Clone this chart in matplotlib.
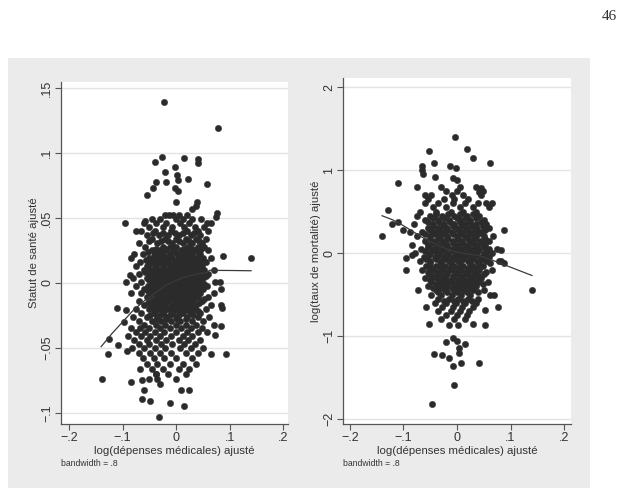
import numpy as np
import matplotlib
matplotlib.use("Agg")
import matplotlib.pyplot as plt
from matplotlib.patches import Rectangle

plt.rcParams['font.family'] = ['Liberation Sans', 'DejaVu Sans']

# --- panneau gauche : statut de santé ajusté ---
# points isolés (x, y)
sante_isoles = [
    (-0.022, 0.139), (0.078, 0.119), (-0.027, 0.097), (-0.040, 0.093), (0.014, 0.096),
    (0.041, 0.095), (0.040, 0.092), (-0.020, 0.085), (-0.003, 0.089), (0.001, 0.083),
    (0.004, 0.079), (-0.037, 0.078), (-0.018, 0.078), (0.022, 0.080), (0.057, 0.076),
    (-0.054, 0.068), (-0.043, 0.073), (-0.002, 0.073), (0.003, 0.071), (0.000, 0.062),
    (0.037, 0.059), (0.039, 0.062), (0.030, 0.057), (-0.096, 0.046), (-0.075, 0.040),
    (-0.059, 0.048), (0.076, 0.054), (0.075, 0.051), (0.088, 0.021), (0.140, 0.019),
    (-0.086, 0.006), (-0.093, 0.001), (-0.110, -0.019), (-0.093, -0.021), (0.082, 0.001),
    (0.083, -0.005), (0.084, -0.017), (0.086, -0.019), (-0.125, -0.043), (-0.108, -0.048),
    (-0.127, -0.055), (-0.091, -0.052), (-0.139, -0.074), (-0.084, -0.076), (-0.063, -0.075),
    (-0.060, -0.082), (-0.063, -0.089), (-0.048, -0.091), (-0.032, -0.103), (-0.012, -0.092),
    (0.014, -0.095), (0.010, -0.082), (0.025, -0.082), (0.065, -0.055), (0.093, -0.055),
    (0.084, -0.033), (-0.038, -0.070), (-0.030, -0.078), (-0.098, -0.030), (0.072, -0.040),
]
# nuage, par rangées : (y, [x ...])
sante_rangees = [
    (0.052, [-0.020, -0.013, -0.005, 0.005, 0.020]),
    (0.049, [-0.045, -0.030, 0.000, 0.012, 0.030, 0.047]),
    (0.046, [-0.060, -0.038, -0.018, 0.008, 0.025, 0.058, 0.066]),
    (0.043, [-0.050, -0.025, -0.008, 0.015, 0.035, 0.052]),
    (0.040, [-0.065, -0.040, -0.010, 0.020, 0.040, 0.060]),
    (0.037, [-0.055, -0.032, -0.015, 0.005, 0.028, 0.045]),
    (0.034, [-0.045, -0.020, 0.000, 0.018, 0.037, 0.055]),
    (0.031, [-0.070, -0.035, -0.008, 0.012, 0.030, 0.048]),
    (0.028, [-0.058, -0.025, -0.012, 0.000, 0.022, 0.040, 0.052]),
    (0.025, [-0.045, -0.030, -0.018, -0.005, 0.010, 0.025, 0.035, 0.060]),
    (0.022, [-0.078, -0.062, -0.040, -0.025, -0.012, 0.002, 0.015, 0.030, 0.045]),
    (0.019, [-0.085, -0.050, -0.035, -0.020, -0.008, 0.005, 0.020, 0.035, 0.050, 0.065]),
    (0.016, [-0.068, -0.045, -0.030, -0.015, 0.000, 0.012, 0.028, 0.042, 0.055]),
    (0.013, [-0.075, -0.055, -0.040, -0.025, -0.010, 0.005, 0.018, 0.032, 0.048]),
    (0.010, [-0.060, -0.045, -0.030, -0.018, -0.005, 0.008, 0.022, 0.038, 0.052, 0.070]),
    (0.007, [-0.070, -0.050, -0.035, -0.022, -0.010, 0.002, 0.015, 0.028, 0.043, 0.060]),
    (0.004, [-0.080, -0.055, -0.040, -0.028, -0.015, -0.003, 0.010, 0.025, 0.038, 0.050]),
    (0.001, [-0.065, -0.045, -0.032, -0.020, -0.008, 0.005, 0.018, 0.032, 0.045, 0.072]),
    (-0.002, [-0.075, -0.052, -0.038, -0.025, -0.012, 0.000, 0.012, 0.027, 0.040, 0.058]),
    (-0.005, [-0.060, -0.045, -0.030, -0.018, -0.005, 0.008, 0.022, 0.035, 0.050]),
    (-0.008, [-0.085, -0.065, -0.040, -0.025, -0.010, 0.003, 0.018, 0.030, 0.045, 0.070]),
    (-0.011, [-0.055, -0.035, -0.020, -0.006, 0.010, 0.025, 0.040, 0.060]),
    (-0.014, [-0.070, -0.045, -0.030, -0.015, 0.000, 0.015, 0.030, 0.048]),
    (-0.017, [-0.060, -0.040, -0.022, -0.008, 0.007, 0.022, 0.038, 0.065]),
    (-0.020, [-0.075, -0.050, -0.032, -0.015, 0.002, 0.018, 0.035, 0.055]),
    (-0.023, [-0.065, -0.042, -0.025, -0.008, 0.012, 0.028, 0.045]),
    (-0.026, [-0.080, -0.055, -0.035, -0.018, 0.000, 0.020, 0.040, 0.062]),
    (-0.029, [-0.070, -0.045, -0.028, -0.010, 0.008, 0.030, 0.050]),
    (-0.032, [-0.060, -0.038, -0.020, 0.000, 0.018, 0.038, 0.070]),
    (-0.035, [-0.085, -0.068, -0.050, -0.030, -0.012, 0.010, 0.028, 0.048]),
    (-0.038, [-0.075, -0.058, -0.040, -0.022, 0.000, 0.020, 0.040, 0.058]),
    (-0.041, [-0.090, -0.065, -0.048, -0.030, -0.010, 0.012, 0.030]),
    (-0.044, [-0.078, -0.055, -0.038, -0.018, 0.005, 0.022, 0.045]),
    (-0.047, [-0.070, -0.050, -0.028, -0.008, 0.015, 0.035]),
    (-0.050, [-0.082, -0.060, -0.040, -0.020, 0.008, 0.028, 0.050]),
    (-0.054, [-0.070, -0.048, -0.030, -0.010, 0.018, 0.040]),
    (-0.058, [-0.062, -0.042, -0.022, 0.000, 0.030]),
    (-0.062, [-0.055, -0.035, -0.012, 0.012, 0.038]),
    (-0.066, [-0.068, -0.045, -0.025, 0.005, 0.025]),
    (-0.070, [-0.038, -0.015, 0.018]),
    (-0.074, [-0.050, -0.035, 0.000]),
]
# coeur dense du nuage
sante_coeur = [
    (0.0385, [-0.043, -0.024, -0.002, 0.012, 0.034]),
    (0.0325, [-0.050, -0.028, -0.015, 0.006, 0.024, 0.042]),
    (0.0265, [-0.038, -0.020, -0.006, 0.014, 0.030, 0.046]),
    (0.0235, [-0.052, -0.034, -0.002, 0.020, 0.041]),
    (0.0205, [-0.042, -0.028, -0.014, 0.010, 0.027, 0.043]),
    (0.0175, [-0.057, -0.038, -0.025, 0.001, 0.016, 0.031, 0.047]),
    (0.0145, [-0.050, -0.035, -0.020, -0.005, 0.008, 0.024, 0.038]),
    (0.0115, [-0.052, -0.038, -0.024, -0.012, 0.002, 0.015, 0.030, 0.045]),
    (0.0085, [-0.058, -0.042, -0.028, -0.016, 0.004, 0.018, 0.034, 0.048]),
    (0.0055, [-0.045, -0.030, -0.016, -0.004, 0.009, 0.022, 0.036, 0.055]),
    (0.0025, [-0.050, -0.035, -0.022, -0.009, 0.004, 0.016, 0.030, 0.044]),
    (-0.0005, [-0.040, -0.026, -0.014, -0.002, 0.011, 0.024, 0.038, 0.052]),
    (-0.0035, [-0.046, -0.032, -0.019, -0.006, 0.006, 0.019, 0.032, 0.046]),
    (-0.0065, [-0.052, -0.036, -0.024, -0.012, 0.001, 0.014, 0.028, 0.042]),
    (-0.0095, [-0.048, -0.030, -0.016, -0.003, 0.012, 0.022, 0.036]),
    (-0.0125, [-0.040, -0.026, -0.012, 0.004, 0.020, 0.034, 0.052]),
    (-0.0155, [-0.052, -0.036, -0.020, -0.002, 0.010, 0.026, 0.042]),
    (-0.0185, [-0.045, -0.028, -0.012, 0.000, 0.014, 0.030]),
    (-0.0215, [-0.040, -0.022, -0.004, 0.008, 0.024, 0.040]),
    (-0.0245, [-0.048, -0.030, -0.012, 0.006, 0.032]),
    (-0.0275, [-0.036, -0.018, 0.002, 0.018]),
]
# courbe lowess (bandwidth = .8)
sante_lowess_x = [-0.140, -0.120, -0.100, -0.080, -0.060, -0.040, -0.020, 0.000, 0.020, 0.040, 0.058, 0.062, 0.100, 0.140]
sante_lowess_y = [-0.049, -0.039, -0.030, -0.021, -0.014, -0.008, -0.002, 0.002, 0.005, 0.007, 0.008, 0.0097, 0.0096, 0.0094]

# --- panneau droit : log(taux de mortalité) ajusté ---
mort_isoles = [
    (-0.004, 1.40), (-0.052, 1.23), (0.019, 1.25), (0.030, 1.15), (0.061, 1.08),
    (-0.066, 1.00), (-0.066, 1.05), (-0.064, 0.95), (-0.043, 1.09), (-0.013, 1.05),
    (-0.002, 1.03), (-0.111, 0.84), (-0.042, 0.92), (-0.008, 0.91), (0.000, 0.88),
    (-0.128, 0.52), (-0.121, 0.35), (-0.110, 0.38), (-0.141, 0.20), (0.045, 0.78),
    (0.042, 0.74), (-0.075, 0.80), (-0.060, 0.70), (0.087, 0.28), (0.083, 0.04),
    (0.087, -0.12), (0.140, -0.45), (0.082, -0.10), (-0.096, -0.06), (-0.095, -0.20),
    (-0.072, -0.44), (-0.058, -0.65), (-0.053, -0.85), (0.077, -0.65), (0.053, -0.69),
    (0.053, -0.87), (0.030, -0.85), (-0.043, -1.22), (-0.028, -1.23), (-0.015, -1.26),
    (-0.008, -1.36), (0.008, -1.32), (0.042, -1.32), (-0.005, -1.59), (-0.047, -1.82),
    (-0.020, -1.07), (-0.008, -1.02), (0.000, -1.06), (0.004, -1.14), (0.015, -1.10),
    (0.004, -1.20), (-0.085, -0.02), (-0.100, 0.28), (0.065, 0.60), (0.070, -0.50),
]
mort_rangees = [
    (0.80, [-0.030, 0.005, 0.035]),
    (0.75, [-0.020, 0.000, 0.048]),
    (0.70, [-0.048, -0.010, 0.012, 0.045]),
    (0.65, [-0.055, -0.025, -0.005, 0.020]),
    (0.60, [-0.060, -0.035, -0.008, 0.015, 0.040, 0.055]),
    (0.55, [-0.045, -0.020, 0.005, 0.030, 0.060]),
    (0.50, [-0.070, -0.040, -0.012, 0.012, 0.035]),
    (0.45, [-0.075, -0.050, -0.028, -0.005, 0.018, 0.042]),
    (0.40, [-0.060, -0.035, -0.015, 0.005, 0.025, 0.050]),
    (0.35, [-0.080, -0.045, -0.025, -0.005, 0.015, 0.035, 0.055]),
    (0.30, [-0.055, -0.035, -0.018, 0.000, 0.018, 0.038, 0.060]),
    (0.25, [-0.088, -0.065, -0.045, -0.028, -0.010, 0.008, 0.025, 0.045]),
    (0.20, [-0.075, -0.050, -0.035, -0.018, 0.000, 0.015, 0.032, 0.050, 0.068]),
    (0.15, [-0.060, -0.042, -0.025, -0.008, 0.010, 0.028, 0.045, 0.060]),
    (0.10, [-0.085, -0.055, -0.035, -0.018, 0.000, 0.018, 0.035, 0.052]),
    (0.05, [-0.068, -0.045, -0.028, -0.010, 0.008, 0.025, 0.042, 0.060, 0.075]),
    (0.00, [-0.078, -0.050, -0.035, -0.018, 0.000, 0.015, 0.032, 0.050, 0.065]),
    (-0.05, [-0.062, -0.042, -0.025, -0.008, 0.010, 0.028, 0.045, 0.060]),
    (-0.10, [-0.070, -0.050, -0.032, -0.015, 0.002, 0.020, 0.038, 0.055, 0.078]),
    (-0.15, [-0.058, -0.040, -0.022, -0.005, 0.012, 0.030, 0.048]),
    (-0.20, [-0.065, -0.045, -0.028, -0.010, 0.008, 0.025, 0.042, 0.065]),
    (-0.25, [-0.052, -0.035, -0.018, 0.000, 0.018, 0.035, 0.050]),
    (-0.30, [-0.060, -0.040, -0.025, -0.008, 0.010, 0.028, 0.045]),
    (-0.35, [-0.048, -0.030, -0.012, 0.005, 0.022, 0.040, 0.058]),
    (-0.40, [-0.055, -0.035, -0.018, 0.000, 0.018, 0.035]),
    (-0.45, [-0.040, -0.022, -0.005, 0.012, 0.030, 0.050]),
    (-0.50, [-0.048, -0.030, -0.010, 0.008, 0.025, 0.062]),
    (-0.55, [-0.035, -0.015, 0.002, 0.020, 0.040]),
    (-0.60, [-0.042, -0.020, -0.002, 0.015, 0.035]),
    (-0.65, [-0.028, -0.008, 0.010, 0.030]),
    (-0.70, [-0.035, -0.012, 0.005, 0.022]),
    (-0.75, [-0.020, 0.000, 0.018]),
    (-0.80, [-0.030, -0.005, 0.015]),
    (-0.87, [-0.015, 0.002]),
]
mort_coeur = [
    (0.475, [-0.040, -0.016, 0.006, 0.030]),
    (0.425, [-0.045, -0.024, 0.000, 0.015, 0.036]),
    (0.375, [-0.055, -0.034, -0.014, 0.005, 0.025, 0.045]),
    (0.325, [-0.045, -0.026, -0.008, 0.010, 0.028, 0.048]),
    (0.275, [-0.050, -0.036, -0.018, 0.002, 0.016, 0.034, 0.052]),
    (0.225, [-0.060, -0.042, -0.026, -0.008, 0.008, 0.024, 0.040]),
    (0.175, [-0.050, -0.032, -0.016, 0.002, 0.020, 0.036, 0.052]),
    (0.125, [-0.045, -0.026, -0.008, 0.010, 0.026, 0.044]),
    (0.075, [-0.055, -0.036, -0.018, 0.000, 0.016, 0.034, 0.050]),
    (0.025, [-0.060, -0.042, -0.026, -0.008, 0.008, 0.024, 0.040, 0.056]),
    (-0.025, [-0.052, -0.034, -0.016, 0.002, 0.018, 0.036, 0.052]),
    (-0.075, [-0.058, -0.040, -0.022, -0.006, 0.012, 0.028, 0.046]),
    (-0.125, [-0.050, -0.030, -0.012, 0.006, 0.024, 0.042, 0.062]),
    (-0.175, [-0.048, -0.030, -0.014, 0.004, 0.020, 0.038]),
    (-0.225, [-0.055, -0.036, -0.018, 0.000, 0.016, 0.034, 0.054]),
    (-0.275, [-0.044, -0.026, -0.008, 0.010, 0.026, 0.042]),
    (-0.325, [-0.050, -0.032, -0.016, 0.002, 0.018, 0.036]),
    (-0.375, [-0.040, -0.022, -0.004, 0.014, 0.030, 0.048]),
    (-0.425, [-0.045, -0.028, -0.010, 0.008, 0.026]),
    (-0.475, [-0.036, -0.018, 0.000, 0.018, 0.040]),
    (-0.575, [-0.025, -0.006, 0.012, 0.028]),
]
mort_lowess_x = [-0.140, -0.120, -0.100, -0.080, -0.060, -0.040, -0.020, 0.000, 0.020, 0.040, 0.060, 0.080, 0.100, 0.120, 0.140]
mort_lowess_y = [0.45, 0.40, 0.33, 0.25, 0.17, 0.11, 0.05, 0.01, -0.01, -0.03, -0.07, -0.12, -0.17, -0.22, -0.27]

xticks = [-0.2, -0.1, 0, 0.1, 0.2]
xticklabels = ['\u2212.2', '\u2212.1', '0', '.1', '.2']
sante_yticks = [-0.1, -0.05, 0, 0.05, 0.1, 0.15]
sante_yticklabels = ['\u2212.1', '\u2212.05', '0', '.05', '.1', '.15']
mort_yticks = [-2, -1, 0, 1, 2]
mort_yticklabels = ['\u22122', '\u22121', '0', '1', '2']


def points(isoles, *groupes):
    xs = [p[0] for p in isoles]
    ys = [p[1] for p in isoles]
    for rangees in groupes:
        for y, row in rangees:
            xs += row
            ys += [y] * len(row)
    return np.array(xs), np.array(ys)


W, H = 631, 497
fig = plt.figure(figsize=(W / 100, H / 100), dpi=100)
fig.patch.set_facecolor('white')
fig.patches.append(Rectangle((8 / W, 1 - 488 / H), 582 / W, 430 / H,
                             transform=fig.transFigure, facecolor='#ebebeb',
                             edgecolor='none', zorder=-10))

fig.text(609 / W, 1 - 17 / H, '46', family=['Liberation Serif', 'DejaVu Serif'],
         fontsize=11, ha='center', va='center', color='#333333')

dark = '#2b2b2b'
axc = '#555555'


def panel(rect, x, y, lx, ly, xlim, ylim, yticks, yticklabels, ylabel):
    ax = fig.add_axes(rect)
    ax.set_facecolor('white')
    ax.scatter(x, y, s=21, color=dark, edgecolors=dark, linewidths=0.3, zorder=3)
    ax.plot(lx, ly, color='#3a3a3a', lw=0.9, zorder=4)
    ax.set_xlim(*xlim)
    ax.set_ylim(*ylim)
    ax.set_xticks(xticks)
    ax.set_xticklabels(xticklabels)
    ax.set_yticks(yticks)
    ax.set_yticklabels(yticklabels, rotation=90, va='center')
    for t in yticks:
        ax.axhline(t, color='#e3e3e3', lw=1.0, zorder=1)
    for s in ['top', 'right']:
        ax.spines[s].set_visible(False)
    for s in ['left', 'bottom']:
        ax.spines[s].set_color(axc)
        ax.spines[s].set_linewidth(0.9)
    ax.tick_params(direction='out', length=4, width=0.8, color=axc,
                   labelsize=9, labelcolor='#333333', pad=1.5)
    ax.set_xlabel('log(dépenses médicales) ajusté', fontsize=8.2, color='#333333', labelpad=2)
    ax.set_ylabel(ylabel, fontsize=8.2, color='#333333', labelpad=2)
    ax.text(0.0, -0.115, 'bandwidth = .8', transform=ax.transAxes, fontsize=6.2,
            color='#333333', ha='left', va='center')
    return ax


sx, sy = points(sante_isoles, sante_rangees, sante_coeur)
panel([61 / W, 1 - 424 / H, 227 / W, 342 / H], sx, sy,
      sante_lowess_x, sante_lowess_y, (-0.215, 0.209), (-0.1085, 0.1546),
      sante_yticks, sante_yticklabels, 'Statut de santé ajusté')

mx, my = points(mort_isoles, mort_rangees, mort_coeur)
panel([343 / W, 1 - 424 / H, 228 / W, 346 / H], mx, my,
      mort_lowess_x, mort_lowess_y, (-0.213, 0.213), (-2.06, 2.11),
      mort_yticks, mort_yticklabels, 'log(taux de mortalité) ajusté')

fig.savefig('out.png', dpi=100)
